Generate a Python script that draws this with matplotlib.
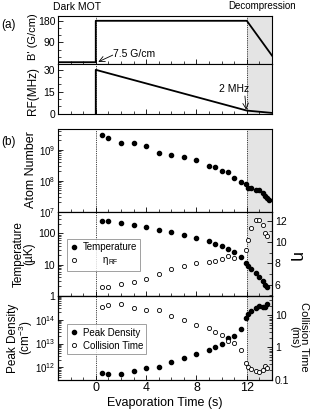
import numpy as np
import matplotlib
matplotlib.use('Agg')
import matplotlib.pyplot as plt
from matplotlib.ticker import FixedLocator, MultipleLocator, LogLocator, NullFormatter, FixedFormatter

plt.rcParams['font.family'] = ['Liberation Sans', 'DejaVu Sans']
plt.rcParams['mathtext.fontset'] = 'custom'
plt.rcParams['mathtext.rm'] = 'Liberation Sans'
plt.rcParams['mathtext.it'] = 'Liberation Sans:italic'
plt.rcParams['mathtext.default'] = 'regular'

# ---- schematic sequence (panel a) ----
bgrad_t = [-3, 0, 0, 12, 14]
bgrad_v = [7.5, 7.5, 180, 180, 35]
rf_t = [0, 0, 12, 14]
rf_v = [0, 30, 2, 0.4]

# ---- atom number ----
atom_t = [0.5, 1, 2, 3, 4, 5, 6, 7, 8, 9, 9.5, 10, 10.5, 11, 11.5, 11.9, 12.1, 12.35, 12.7, 13.0, 13.3, 13.45, 13.6, 13.75]
atom_n = [2.98e9, 2.44e9, 1.61e9, 1.61e9, 1.32e9, 8.0e8, 6.9e8, 5.7e8, 4.66e8, 3.05e8, 2.7e8, 2.1e8, 1.9e8,
          1.22e8, 9.1e7, 7.6e7, 5.8e7, 5.7e7, 5.0e7, 5.0e7, 4.1e7, 3.3e7, 2.8e7, 2.4e7]

# ---- temperature ----
temp_t = [0.5, 1, 2, 3, 4, 5, 6, 7, 8, 9, 9.5, 10, 10.5, 11, 11.5, 11.9, 12.1, 12.35, 12.7, 13.0, 13.3, 13.45, 13.6]
temp_v = [257, 251, 216, 186, 156, 134, 109, 90, 74, 56, 47, 40, 32, 26, 17.7, 11.6, 9.3, 7.3, 5.3, 4.1, 3.05, 2.26, 1.9]

# ---- eta_RF ----
eta_t = [0.5, 1, 2, 3, 4, 5, 6, 7, 8, 9, 9.5, 10, 10.5, 11, 11.9, 12.1, 12.35, 12.7, 13.0, 13.3, 13.45, 13.6]
eta_v = [5.78, 5.75, 6.03, 6.25, 6.59, 7.0, 7.5, 7.79, 8.04, 8.13, 8.24, 8.43, 8.66, 8.54, 9.24, 10.22, 11.34,
         12.1, 12.1, 11.63, 10.86, 10.6]

# ---- peak density ----
dens_t = [0.5, 1, 2, 3, 4, 5, 6, 7, 8, 9, 9.5, 10, 10.5, 11, 11.5, 11.9, 12.1, 12.35, 12.7, 13.0, 13.3, 13.45, 13.6]
dens_v = [5.7e11, 5.2e11, 5.2e11, 7.2e11, 9.1e11, 1.03e12, 1.67e12, 2.4e12, 3.8e12, 5.1e12, 7.1e12, 9.4e12,
          1.7e13, 2.15e13, 4.1e13, 1.2e14, 1.8e14, 2.4e14, 3.2e14, 3.7e14, 3.5e14, 3.5e14, 4.7e14]

# ---- collision time ----
coll_t = [0.5, 1, 2, 3, 4, 5, 6, 7, 8, 9, 9.5, 10, 10.5, 11, 11.5, 11.9, 12.1, 12.35, 12.7, 13.0, 13.3, 13.45, 13.6]
coll_v = [18.3, 20.5, 23.2, 16.5, 14.3, 14.3, 9.6, 7.2, 4.9, 4.1, 3.1, 2.4, 1.54, 1.4, 0.83, 0.32, 0.25, 0.215,
          0.18, 0.17, 0.205, 0.27, 0.23]

fig = plt.figure(figsize=(3.12, 4.11), dpi=100)
L, W = 58/312, 214/312
def pos(top, bot):
    return [L, 1 - bot/411, W, (bot - top)/411]

def ftext(x, y, s, **kw):
    return fig.text(x/312, 1 - y/411, s, ha='center', va='center', **kw)

axB = fig.add_axes(pos(16, 64))
axR = fig.add_axes(pos(64, 113.5))
axN = fig.add_axes(pos(128.7, 211.7))
axT = fig.add_axes(pos(211.7, 295.8))
axD = fig.add_axes(pos(295.8, 379.5))

FS = 7.5
LFS = 8.5
shade = '#e4e4e4'

def style_ticks(ax):
    ax.tick_params(axis='both', which='both', direction='in', labelsize=FS, top=False)
    ax.tick_params(which='major', length=3.5, width=0.6, pad=2)
    ax.tick_params(which='minor', length=2, width=0.5)

for ax in [axB, axR, axN, axT, axD]:
    ax.set_xlim(-3, 14)
    ax.axvspan(12, 14, color=shade, zorder=0, lw=0)
    for xv in (0, 12):
        ax.axvline(xv, color='k', ls=(0, (1, 1.2)), lw=0.6, zorder=1)
    ax.xaxis.set_major_locator(FixedLocator([0, 4, 8, 12]))
    ax.xaxis.set_minor_locator(MultipleLocator(1))
    style_ticks(ax)
    ax.tick_params(right=False)
    for s in ax.spines.values():
        s.set_linewidth(0.8)
    if ax is not axD:
        ax.tick_params(axis='x', labelbottom=False)

# Panel a: B'
axB.plot(bgrad_t, bgrad_v, color='k', lw=1.3, zorder=3)
axB.set_ylim(0, 200)
axB.yaxis.set_major_locator(FixedLocator([90, 180]))
axB.yaxis.set_minor_locator(FixedLocator([30, 60, 120, 150]))
ftext(33, 37, "B' (G/cm)", fontsize=8, rotation=90)
axB.annotate('', xy=(0.2, 9), xytext=(1.35, 37),
             arrowprops=dict(arrowstyle='->', lw=0.6, color='k', shrinkA=0, shrinkB=0))
axB.text(1.4, 40, '7.5 G/cm', fontsize=FS, va='center', ha='left')

# Panel a: RF
axR.plot(rf_t, rf_v, color='k', lw=1.3, zorder=3)
axR.set_ylim(0, 34)
axR.yaxis.set_major_locator(FixedLocator([0, 15, 30]))
axR.yaxis.set_minor_locator(MultipleLocator(5))
ftext(33, 91, 'RF(MHz)', fontsize=LFS, rotation=90)
axR.text(10.95, 16.5, '2 MHz', fontsize=FS, ha='center', va='center')
axR.annotate('', xy=(11.95, 2.6), xytext=(11.85, 12),
             arrowprops=dict(arrowstyle='->', lw=0.6, color='k', shrinkA=0, shrinkB=0))

ms = 3.0
# Panel b: atom number
axN.plot(atom_t, atom_n, 'o', color='k', ms=ms, zorder=4)
axN.set_yscale('log')
axN.set_ylim(1e7, 4.8e9)
axN.yaxis.set_major_locator(LogLocator(base=10, numticks=10))
axN.yaxis.set_minor_locator(LogLocator(base=10, subs=np.arange(2, 10), numticks=20))
axN.yaxis.set_minor_formatter(NullFormatter())
axN.tick_params(axis='y', labelsize=FS - 0.5)
ftext(31, 170, 'Atom Number', fontsize=LFS + 0.5, rotation=90)

# Panel b: temperature + eta
axT.plot(temp_t, temp_v, 'o', color='k', ms=ms, zorder=4, label='Temperature')
axT.set_yscale('log')
axT.set_ylim(1, 500)
axT.yaxis.set_major_locator(FixedLocator([1, 10, 100]))
axT.yaxis.set_major_formatter(FixedFormatter(['1', '10', '100']))
axT.yaxis.set_minor_locator(LogLocator(base=10, subs=np.arange(2, 10), numticks=20))
axT.yaxis.set_minor_formatter(NullFormatter())
ftext(24, 254, 'Temperature\n(\u00b5K)', fontsize=LFS, rotation=90, linespacing=0.92)
axE = axT.twinx()
axE.plot(eta_t, eta_v, 'o', mfc='white', mec='k', mew=0.6, ms=ms, zorder=4,
         label='\u2003\u2003' + r'$\eta_{RF}$')
axE.set_ylim(4.97, 12.85)
axE.yaxis.set_major_locator(FixedLocator([6, 8, 10, 12]))
axE.yaxis.set_minor_locator(MultipleLocator(1))
style_ticks(axE)
ftext(297, 256, '\u03b7', fontsize=LFS + 4, rotation=270)
h1, l1 = axT.get_legend_handles_labels()
h2, l2 = axE.get_legend_handles_labels()
leg = axE.legend(h1 + h2, l1 + l2, loc='upper left', bbox_to_anchor=(0.04, 0.675), fontsize=FS - 0.5,
                 frameon=True, fancybox=False, edgecolor='#888888', handlelength=0.8, handletextpad=0.5,
                 borderpad=0.35, labelspacing=0.3, borderaxespad=0)
leg.get_frame().set_linewidth(0.7)

# Panel b: density + collision time
axD.plot(dens_t, dens_v, 'o', color='k', ms=ms, zorder=4, label='Peak Density')
axD.set_yscale('log')
axD.set_ylim(3.1e11, 1e15)
axD.yaxis.set_major_locator(FixedLocator([1e12, 1e13, 1e14]))
axD.yaxis.set_minor_locator(LogLocator(base=10, subs=np.arange(2, 10), numticks=20))
axD.yaxis.set_minor_formatter(NullFormatter())
axD.tick_params(axis='y', labelsize=FS - 0.5)
ftext(21, 338, 'Peak Density\n(cm$^{-3}$)', fontsize=LFS, rotation=90, linespacing=0.9)
axD.set_xlabel('Evaporation Time (s)', fontsize=LFS + 0.5, labelpad=2)
axD.tick_params(axis='x', labelsize=FS + 1.5, pad=2)
axC = axD.twinx()
axC.plot(coll_t, coll_v, 'o', mfc='white', mec='k', mew=0.6, ms=ms, zorder=4, label='Collision Time')
axC.set_yscale('log')
axC.set_ylim(0.1, 41)
axC.yaxis.set_major_locator(FixedLocator([0.1, 1, 10]))
axC.yaxis.set_major_formatter(FixedFormatter(['0.1', '1', '10']))
axC.yaxis.set_minor_locator(LogLocator(base=10, subs=np.arange(2, 10), numticks=20))
axC.yaxis.set_minor_formatter(NullFormatter())
style_ticks(axC)
ftext(299, 337, 'Collision Time\n(ms)', fontsize=8, rotation=270, linespacing=0.9)
h1, l1 = axD.get_legend_handles_labels()
h2, l2 = axC.get_legend_handles_labels()
leg2 = axC.legend(h1 + h2, l1 + l2, loc='upper left', bbox_to_anchor=(0.04, 0.66), fontsize=FS - 0.5,
                  frameon=True, fancybox=False, edgecolor='#888888', handlelength=0.8, handletextpad=0.5,
                  borderpad=0.35, labelspacing=0.3, borderaxespad=0)
leg2.get_frame().set_linewidth(0.7)

ftext(77, 7, 'Dark MOT', fontsize=7.5)
ftext(262, 6, 'Decompression', fontsize=7)
ftext(9, 25, '(a)', fontsize=8.5)
ftext(8, 142, '(b)', fontsize=8.5)

fig.savefig('out.png', dpi=100)
